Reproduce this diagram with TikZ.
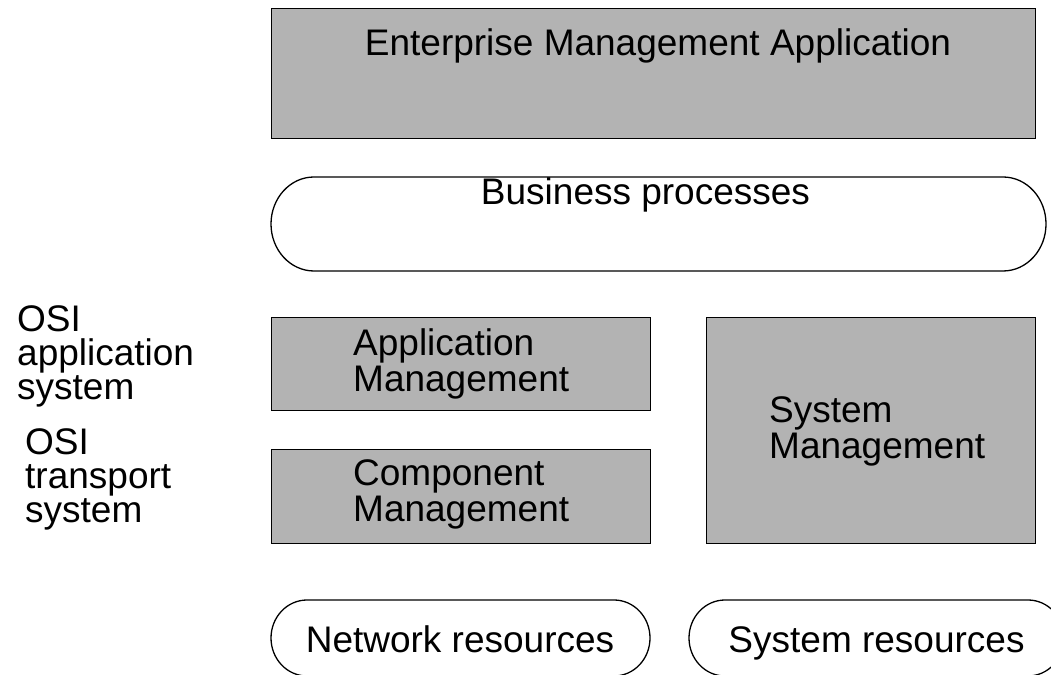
\documentclass[tikz,border=0pt]{standalone}
\usepackage{fontspec}
\setmainfont{Liberation Sans}
\usetikzlibrary{positioning}
\definecolor{boxgray}{RGB}{179,179,179}
\tikzset
{
    graybox/.style = {rectangle, draw=black, fill=boxgray, line width=1.3pt, inner sep=0pt, anchor=north west},
    pillbox/.style = {rectangle, inner sep=0pt, outer sep=0pt},
    label/.style   = {inner sep=0pt, align=left, anchor=base west},
    layer/.style   = {label, font=\fontsize{37}{34}\selectfont}
}
% outline of a pill round a named node: node, x radius, y radius
\newcommand{\pill}[3]{%
    \draw[line width=1.3pt] ([xshift=#2]#1.north west) -- ([xshift=-#2]#1.north east)
        arc[start angle=90, end angle=-90, x radius=#2, y radius=#3]
        -- ([xshift=#2]#1.south west)
        arc[start angle=270, end angle=90, x radius=#2, y radius=#3] -- cycle;}

\begin{document}
\begin{tikzpicture}[x=1pt, y=1pt, every node/.style={font=\fontsize{37}{36}\selectfont}]
\useasboundingbox (0,0) rectangle (1051,674);
\clip (0,0) rectangle (1051,674);

\node (ema)		[graybox, minimum width=764, minimum height=130]	at (271,666)	{};
\node (appm)	[graybox, minimum width=379, minimum height=93]		at (271,357)	{};
\node (compm)	[graybox, minimum width=379, minimum height=94]		at (271,225)	{};
\node (sysm)	[graybox, minimum width=329, minimum height=226]	at (706,357)	{};

\node (bp)		[pillbox, minimum width=775, minimum height=94]		at (658.5,450)	{};
\node (netres)	[pillbox, minimum width=379, minimum height=76]		at (460.5,36)	{};
\node (sysres)	[pillbox, minimum width=375, minimum height=76]		at (876.5,36)	{};
\pill{bp}{43}{47}
\pill{netres}{36}{38}
\pill{sysres}{36}{38}

% multi-line labels sit on the baseline of their last line
\node (emal)	[label, anchor=base]	at (658,618)	{Enterprise Management Application};
\node (bpl)		[label, anchor=base]	at (645.5,469)	{Business processes};
\node (appml)	[label]					at (353,282)	{Application\\Management};
\node (compml)	[label]					at (353,152)	{Component\\Management};
\node (sysml)	[label]					at (769,215)	{System\\Management};
\node (netl)	[label, anchor=base]	at (460,22)		{Network resources};
\node (sysl)	[label, anchor=base]	at (876.5,22)	{System resources};

%% layers
\node (osiapp)	[layer]					at (17,274)		{OSI\\application\\system};
\node (ositr)	[layer]					at (25,151)		{OSI\\transport\\system};

\end{tikzpicture}
\end{document}
